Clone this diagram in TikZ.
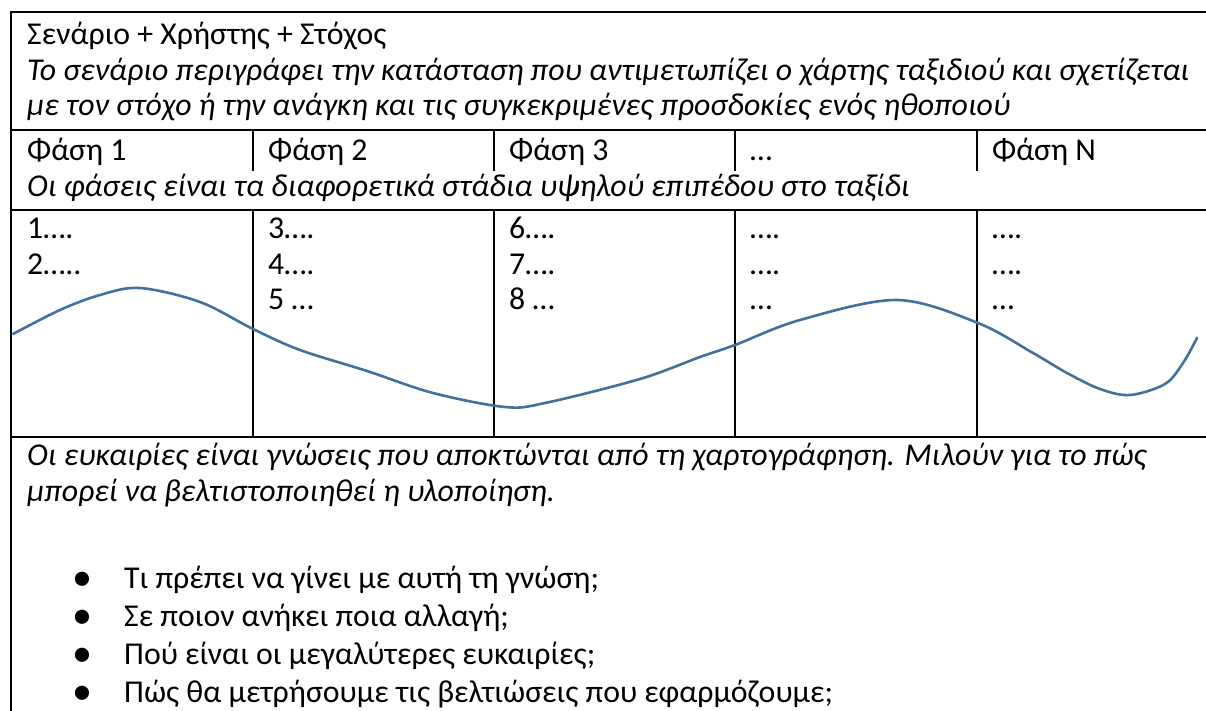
\documentclass[tikz,border=0pt]{standalone}
\usepackage{fontspec}
\setmainfont{Carlito}
\definecolor{curveblue}{HTML}{41719C}
\begin{document}
\begin{tikzpicture}[x=1pt,y=-1pt,
  txt/.style={anchor=base west, inner sep=0pt, font=\fontsize{31.8}{36}\selectfont},
  itxt/.style={anchor=base west, inner sep=0pt, font=\fontsize{31.8}{36}\selectfont\itshape},
  bul/.style={anchor=base, inner sep=0pt, font=\fontsize{40}{40}\selectfont},
  rule/.style={line width=2pt, black},
  wave/.style={line width=2.6pt, curveblue, line cap=round}]
\useasboundingbox (0,0) rectangle (1206,711);
\begin{scope}
\clip (0,0) rectangle (1206,711);
% table rules
\draw[rule] (11,12) -- (1215,12);
\draw[rule] (11,130) -- (1215,130);
\draw[rule] (11,210) -- (1215,210);
\draw[rule] (11,437) -- (1215,437);
\draw[rule] (11,11) -- (11,720);
\foreach \cx in {253,494,735,977} {
  \draw[rule] (\cx,130) -- (\cx,171);
  \draw[rule] (\cx,210) -- (\cx,437);
}
% wave
\draw[wave] plot[smooth, tension=0.55] coordinates {
 (13,334) (60,310) (100,295) (140,288) (200,302) (253,329) (300,350)
 (367,371) (433,393) (505,407) (545,403) (640,379) (700,357) (735,345)
 (800,320) (897,300) (978,323) (1033,353) (1067,373) (1100,389) (1130,395) (1165,384) (1183,363) (1197,338)};
% bullet list (clipped at bottom like the reference)
\foreach \by/\btxt [count=\i] in {588/{Τι πρέπει να γίνει με αυτή τη γνώση;},626/{Σε ποιον ανήκει ποια αλλαγή;},664/{Πού είναι οι μεγαλύτερες ευκαιρίες;},702/{Πώς θα μετρήσουμε τις βελτιώσεις που εφαρμόζουμε;}} {
  \node[bul] (bullet\i) at (82,\by+2) {•};
  \node[txt] (item\i) at (124,\by) {\btxt};
}
\end{scope}
% texts
\node[txt]  (title) at (27,45)  {Σενάριο + Χρήστης + Στόχος};
\node[itxt] (desc1) at (27,81)  {Το σενάριο περιγράφει την κατάσταση που αντιμετωπίζει ο χάρτης ταξιδιού και σχετίζεται};
\node[itxt] (desc2) at (27,116) {με τον στόχο ή την ανάγκη και τις συγκεκριμένες προσδοκίες ενός ηθοποιού};
\node[txt] (ph1) at (27,161)  {Φάση 1};
\node[txt] (ph2) at (268,161) {Φάση 2};
\node[txt] (ph3) at (509,161) {Φάση 3};
\node[txt] (ph4) at (750,161) {…};
\node[txt] (ph5) at (992,161) {Φάση N};
\node[itxt] (phdesc) at (27,197) {Οι φάσεις είναι τα διαφορετικά στάδια υψηλού επιπέδου στο ταξίδι};
\node[txt] (c11) at (27,239)  {1….};
\node[txt] (c12) at (27,274)  {2…..};
\node[txt] (c21) at (268,239) {3….};
\node[txt] (c22) at (268,274) {4….};
\node[txt] (c23) at (268,309) {5 …};
\node[txt] (c31) at (509,239) {6….};
\node[txt] (c32) at (509,274) {7….};
\node[txt] (c33) at (509,309) {8 …};
\node[txt] (c41) at (750,239) {….};
\node[txt] (c42) at (750,274) {….};
\node[txt] (c43) at (750,309) {…};
\node[txt] (c51) at (992,239) {….};
\node[txt] (c52) at (992,274) {….};
\node[txt] (c53) at (992,309) {…};
\node[itxt] (op1) at (27,465) {Οι ευκαιρίες είναι γνώσεις που αποκτώνται από τη χαρτογράφηση. Μιλούν για το πώς};
\node[itxt] (op2) at (27,501) {μπορεί να βελτιστοποιηθεί η υλοποίηση.};
\end{tikzpicture}
\end{document}
